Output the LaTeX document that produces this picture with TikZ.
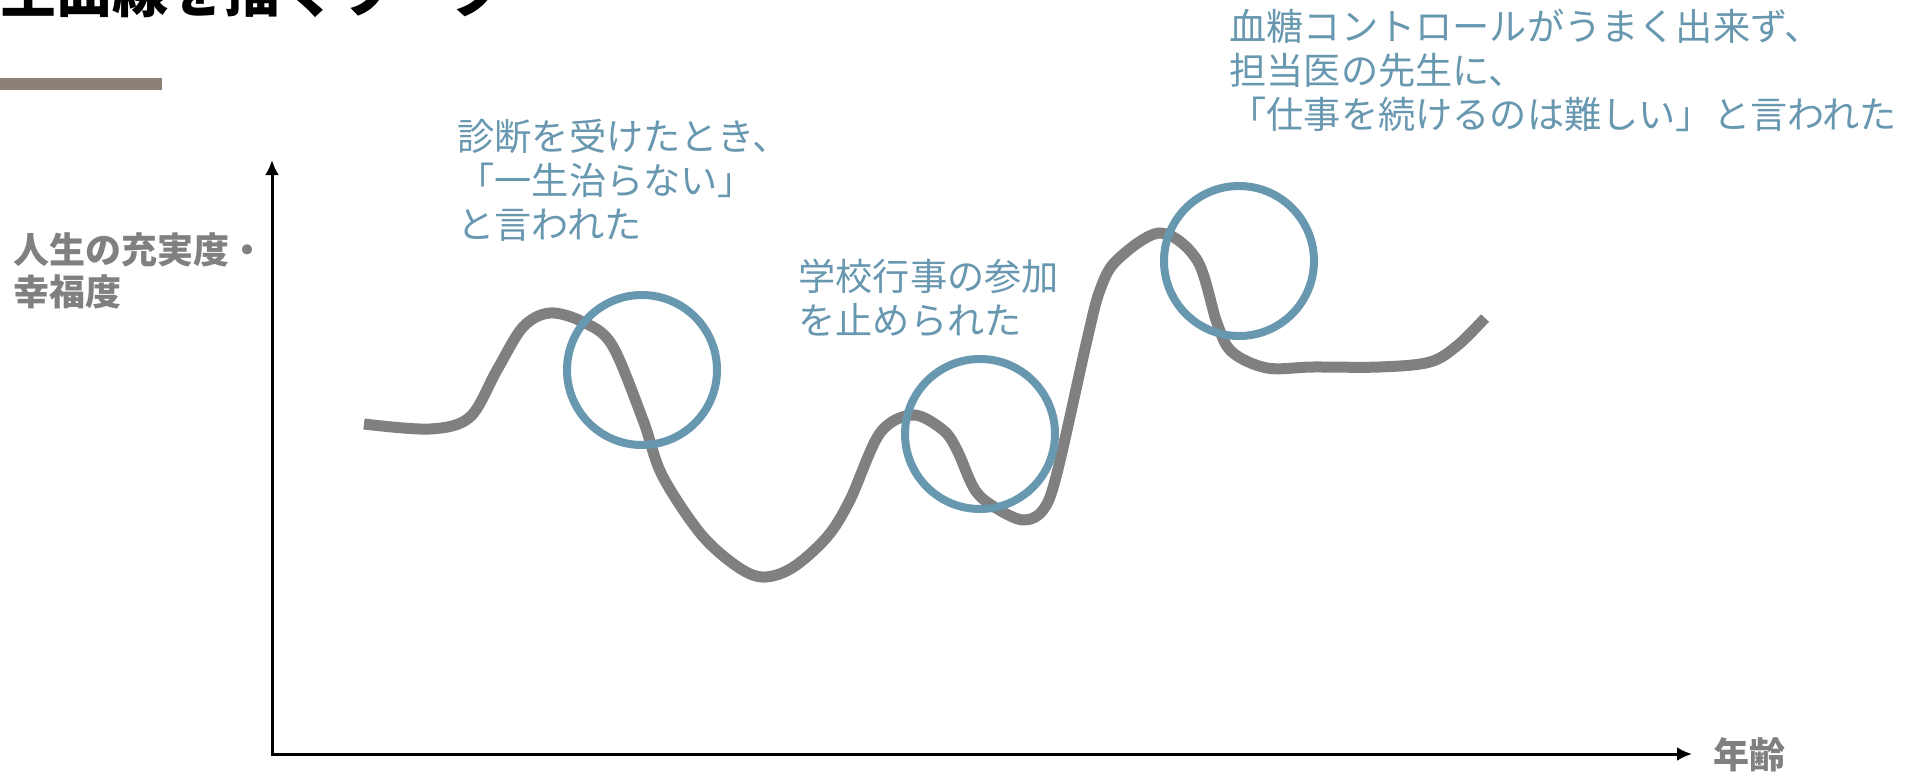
\documentclass[tikz,border=0pt]{standalone}
\usepackage{fontspec}
\newfontfamily\jp{Noto Sans CJK JP}
\usetikzlibrary{arrows.meta}
\definecolor{curvegray}{RGB}{128,128,128}
\definecolor{ringblue}{RGB}{104,151,176}
\definecolor{labelgray}{RGB}{128,128,128}
\definecolor{barbrown}{RGB}{140,129,118}
\begin{document}
\begin{tikzpicture}[x=0.5pt,y=-0.5pt,
  bluetext/.style={text=ringblue, font=\jp\fontsize{18.6pt}{22pt}\selectfont, align=left, anchor=north west, inner sep=0pt},
  graylabel/.style={text=labelgray, font=\jp\bfseries\fontsize{18pt}{21pt}\selectfont, inner sep=0pt, align=left},
  ring/.style={draw=ringblue, line width=4pt},
  lifecurve/.style={draw=curvegray, line width=5.5pt, line cap=butt, line join=round},
  axisline/.style={line width=1.5pt, {Latex[length=7.5pt,width=7pt]}-{Latex[length=7.5pt,width=7pt]}}]
\useasboundingbox (0,0) rectangle (1923,776);
% title (cropped) and bar
\node[anchor=base west, inner sep=0pt, font=\jp\bfseries\fontsize{28pt}{30pt}\selectfont] (title) at (-56,12) {人生曲線を描くワーク};
\fill[barbrown] (0,78) rectangle (162,90);
% axes
\coordinate (origin) at (272,754);
\coordinate (ytip) at (272,160);
\coordinate (xtip) at (1692,754);
\draw[axisline] (ytip) |- (xtip);
% labels
\node[graylabel, anchor=north west] (ylabel) at (13,232) {人生の充実度・\\幸福度};
\node[graylabel, anchor=center] (xlabel) at (1749,755) {年齢};
% life curve
\draw[lifecurve] plot[smooth, tension=0.55] coordinates {
 (364,424) (430,429) (470,417) (497,370) (523,327) (550,313) (583,322) (612,345)
 (643,420) (662,475) (700,533) (735,565) (762,577) (792,568) (827,537) (850,500) (880,433)
 (913,415) (943,430) (957,450) (975,490) (996,508) (1023,520) (1043,510) (1057,473)
 (1087,340) (1100,290) (1117,260) (1160,233) (1197,260) (1217,323) (1232,352)
 (1267,368) (1313,367) (1380,367) (1430,362) (1458,345) (1485,318)};
% rings
\draw[ring] (642,370) circle[radius=37.5pt];
\draw[ring] (980,434) circle[radius=37.5pt];
\draw[ring] (1239,261) circle[radius=37.5pt];
% blue texts
\node[bluetext] (t1) at (457,119) {診断を受けたとき、\\「一生治らない」\\と言われた};
\node[bluetext] (t2) at (798,259) {学校行事の参加\\を止められた};
\node[bluetext] (t3) at (1229,9) {血糖コントロールがうまく出来ず、\\担当医の先生に、\\「仕事を続けるのは難しい」と言われた};
\end{tikzpicture}
\end{document}
